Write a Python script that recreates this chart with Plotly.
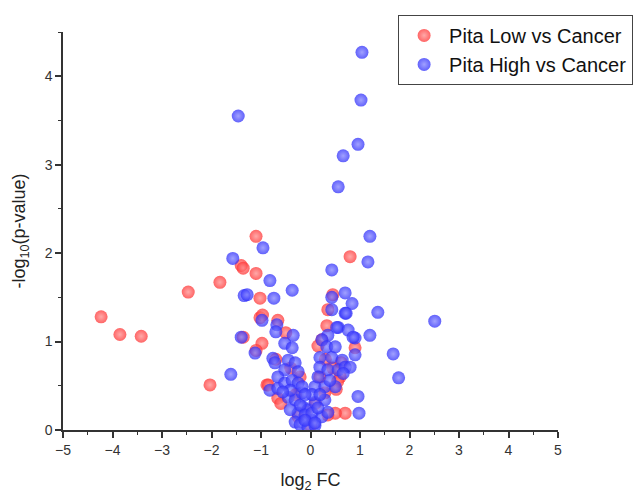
import plotly.graph_objects as go

# Pita Low vs Cancer (red)
low_x = [-4.23, -3.85, -3.42, -2.47, -1.83, -2.03, -1.10, -1.40, -1.36, -1.10, -1.02, -1.02,
         -0.98, -1.36, -1.10, -0.88, -0.66, -0.97, 0.80, 0.70, 0.50, 0.45, 0.35, 0.90, 0.33,
         0.60, 0.23, 0.29, 0.45, 0.55, 0.19, -0.21, 0.35, -0.25, -0.66, -0.85, -0.40, -0.70,
         -0.50, 0.10, -0.10, 0.00, 0.30, -0.30, 0.62, 0.52, -0.60, 0.15]
low_y = [1.28, 1.08, 1.06, 1.56, 1.67, 0.51, 2.19, 1.86, 1.83, 1.77, 1.49, 1.27,
         0.98, 1.05, 0.90, 0.51, 1.24, 1.30, 1.96, 0.19, 0.19, 1.53, 1.36, 0.93, 1.18,
         0.60, 1.02, 0.42, 0.70, 0.55, 0.60, 0.60, 0.17, 0.15, 0.36, 0.51, 0.70, 0.80,
         1.10, 0.30, 0.20, 0.05, 0.80, 0.40, 0.76, 0.46, 0.30, 0.95]

# Pita High vs Cancer (blue)
high_x = [1.04, 1.02, -1.46, 0.96, 0.66, 0.56, 1.20, -0.96, -1.57, 1.16, 0.43, -1.34, -1.28,
          -0.82, -0.74, -0.37, 1.36, 2.51, 1.20, 1.67, 1.78, -1.61, 0.96, 0.98, -1.40, -1.12,
          # left arm
          -0.98, -0.68, -0.70, -0.35, -0.52, -0.37, -0.76, -0.72, -0.45, -0.31, -0.52, -0.66,
          -0.25, -0.82, -0.66, -0.52, -0.37, -0.25, -0.45, -0.31, -0.17, -0.15, -0.25, -0.05,
          0.03, -0.17, -0.31, -0.41, -0.56, -0.21, -0.11, -0.41, -0.21, -0.05, 0.09,
          # right arm
          0.43, 0.70, 0.84, 0.43, 0.70, 0.56, 0.76, 0.35, 0.90, 0.23, 0.33, 0.50, 0.19, 0.43,
          0.64, 0.90, 0.19, 0.35, 0.56, 0.70, 0.09, 0.29, 0.50, -0.17, 0.09, 0.29, 0.03, 0.23,
          0.35, -0.11, 0.09, 0.15, 0.39, 0.03, 0.19, 0.15, -0.11, 0.72, 0.53, 0.86, 0.80, 0.66]
high_y = [4.27, 3.73, 3.55, 3.23, 3.10, 2.75, 2.19, 2.06, 1.94, 1.90, 1.81, 1.52, 1.53,
          1.69, 1.49, 1.58, 1.33, 1.23, 1.07, 0.86, 0.59, 0.63, 0.38, 0.19, 1.05, 0.87,
          # left arm
          1.24, 1.19, 1.11, 1.07, 0.98, 0.93, 0.81, 0.76, 0.79, 0.76, 0.68, 0.60,
          0.66, 0.45, 0.47, 0.53, 0.56, 0.53, 0.37, 0.34, 0.42, 0.26, 0.19, 0.23,
          0.11, 0.09, 0.09, 0.45, 0.43, 0.28, 0.17, 0.23, 0.06, 0.03, 0.05,
          # right arm
          1.50, 1.55, 1.43, 1.36, 1.32, 1.16, 1.13, 1.07, 1.04, 1.02, 0.94, 0.94, 0.82, 0.82,
          0.79, 0.85, 0.71, 0.68, 0.68, 0.71, 0.49, 0.49, 0.49, 0.49, 0.31, 0.34, 0.19, 0.15,
          0.20, 0.11, 0.08, 0.60, 0.56, 0.40, 0.40, 0.25, 0.40, 1.32, 1.16, 1.05, 0.71, 0.64]

FONT = "Liberation Sans, Arial, sans-serif"

fig = go.Figure()
fig.add_trace(go.Scatter(
    x=low_x, y=low_y, mode="markers", name="Pita Low vs Cancer",
    marker=dict(size=13, color="rgba(255,50,50,0.75)", line=dict(width=0),
                gradient=dict(type="radial", color="rgba(255,140,140,0.75)")),
))
fig.add_trace(go.Scatter(
    x=high_x, y=high_y, mode="markers", name="Pita High vs Cancer",
    marker=dict(size=13, color="rgba(45,45,250,0.75)", line=dict(width=0),
                gradient=dict(type="radial", color="rgba(130,130,255,0.75)")),
))

axis_common = dict(
    showline=True, linecolor="#333", linewidth=1.5, mirror=False,
    ticks="outside", ticklen=6, tickwidth=1.5, tickcolor="#333",
    showgrid=False, zeroline=False,
    tickfont=dict(family=FONT, size=14, color="#333"),
    minor=dict(ticks="outside", ticklen=3, tickwidth=1.2, tickcolor="#333", dtick=0.5, showgrid=False),
)

fig.update_layout(
    width=638, height=493,
    margin=dict(l=63, r=80, t=32, b=63, autoexpand=False),
    plot_bgcolor="white", paper_bgcolor="white",
    font=dict(family=FONT, color="#222"),
    xaxis=dict(range=[-5, 5], dtick=1, tick0=0,
               title=dict(text="log<sub>2</sub> FC", font=dict(family=FONT, size=18, color="#222"), standoff=18),
               **axis_common),
    yaxis=dict(range=[0, 4.5], dtick=1, tick0=0,
               title=dict(text="-log<sub>10</sub>(p-value)", font=dict(family=FONT, size=18, color="#222"), standoff=14),
               **axis_common),
    legend=dict(x=0.677, y=1.043, xanchor="left", yanchor="top",
                bgcolor="white", bordercolor="#444", borderwidth=1,
                font=dict(family=FONT, size=20, color="#111"),
                itemwidth=40, tracegroupgap=0),
    showlegend=True,
)

fig.write_html("out.html", config={"displayModeBar": False},
               post_script="document.body.style.margin='0';")
